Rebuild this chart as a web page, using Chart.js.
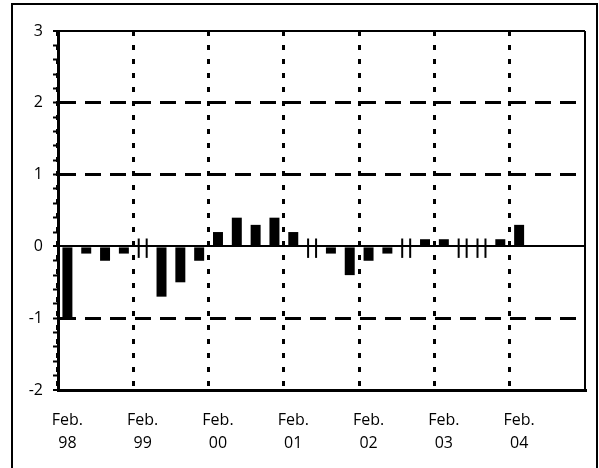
<!DOCTYPE html>
<html>
<head>
<meta charset="utf-8">
<script src="https://cdn.jsdelivr.net/npm/chart.js@4"></script>
<style>
  html, body { margin: 0; padding: 0; background: #fff; }
  #wrap { width: 599px; height: 468px; position: relative; }
</style>
</head>
<body>
<div id="wrap"><canvas id="rateChart"></canvas></div>
<script>
// quarterly data, Feb 98 .. Nov 04
const quarters = [
    'Feb. 98', 'May 98', 'Aug. 98', 'Nov. 98',
    'Feb. 99', 'May 99', 'Aug. 99', 'Nov. 99',
    'Feb. 00', 'May 00', 'Aug. 00', 'Nov. 00',
    'Feb. 01', 'May 01', 'Aug. 01', 'Nov. 01',
    'Feb. 02', 'May 02', 'Aug. 02', 'Nov. 02',
    'Feb. 03', 'May 03', 'Aug. 03', 'Nov. 03',
    'Feb. 04', 'May 04', 'Aug. 04', 'Nov. 04'
];
const changes = [
    -1.0, -0.1, -0.2, -0.1,
    0, -0.7, -0.5, -0.2,
    0.2, 0.4, 0.3, 0.4,
    0.2, 0, -0.1, -0.4,
    -0.2, -0.1, 0, 0.1,
    0.1, 0, 0, 0.1,
    0.3, null, null, null
];
const yearLabels = ['98', '99', '00', '01', '02', '03', '04'];
const yMin = -2;
const yMax = 3;

const isInt = v => Math.abs(v - Math.round(v)) < 1e-6;

// frame around the whole picture
const framePlugin = {
    id: 'frame',
    afterDraw(chart) {
        const ctx = chart.ctx;
        ctx.save();
        ctx.strokeStyle = '#000';
        ctx.lineWidth = 2;
        ctx.strokeRect(12, 4, 585, 470);
        ctx.restore();
    }
};

// zero values are shown as two small vertical strokes
const zeroMarks = {
    id: 'zeroMarks',
    afterDatasetsDraw(chart) {
        const ctx = chart.ctx;
        const y = chart.scales.y;
        const meta = chart.getDatasetMeta(0);
        ctx.save();
        ctx.strokeStyle = '#000';
        ctx.lineWidth = 2;
        changes.forEach((v, i) => {
            if (v !== 0) return;
            const bar = meta.data[i];
            const half = bar.width / 2;
            const top = y.getPixelForValue(0.11);
            const bot = y.getPixelForValue(-0.16);
            [bar.x - half + 1, bar.x + half - 1].forEach(px => {
                ctx.beginPath();
                ctx.moveTo(px, top);
                ctx.lineTo(px, bot);
                ctx.stroke();
            });
        });
        ctx.restore();
    }
};

new Chart(document.getElementById('rateChart'), {
    type: 'bar',
    data: {
        labels: quarters,
        datasets: [{
            data: changes,
            backgroundColor: '#000',
            borderWidth: 0,
            barPercentage: 0.53,
            categoryPercentage: 1.0
        }]
    },
    options: {
        responsive: true,
        maintainAspectRatio: false,
        animation: false,
        layout: { padding: { left: 12, right: 14, top: 31, bottom: 18 } },
        plugins: {
            legend: { display: false },
            tooltip: { enabled: false }
        },
        scales: {
            x: {
                offset: true,
                grid: {
                    offset: true,
                    drawTicks: false,
                    color: c => (c.index === undefined || c.index % 4 === 0) ? '#000' : 'rgba(0,0,0,0)',
                    lineWidth: c => c.index === undefined ? 2 : 3
                },
                border: {
                    display: true,
                    color: '#000',
                    width: 3,
                    dash: c => c.index === undefined ? [] : [5, 9]
                },
                ticks: {
                    autoSkip: false,
                    maxRotation: 0,
                    padding: 19,
                    color: '#000',
                    font: { family: 'Open Sans', size: 16, lineHeight: 1.45 },
                    callback: (val, i) => i % 4 === 0 ? ['Feb.', yearLabels[i / 4]] : ''
                },
                afterFit: s => { s.height = 60; }
            },
            y: {
                min: yMin,
                max: yMax,
                grid: {
                    color: c => (c.tick && isInt(c.tick.value)) ? '#000' : 'rgba(0,0,0,0)',
                    lineWidth: c => {
                        if (!c.tick) return 2;
                        const v = c.tick.value;
                        if (v === 0 || v === yMax || v === yMin) return 2;
                        return 3;
                    },
                    tickColor: '#000',
                    tickWidth: 2,
                    tickLength: 5
                },
                border: {
                    display: true,
                    color: '#000',
                    width: 3,
                    dash: c => {
                        if (!c.tick) return [];
                        const v = c.tick.value;
                        return (v === 0 || v === yMax || v === yMin) ? [] : [16, 9];
                    }
                },
                ticks: {
                    stepSize: 0.2,
                    autoSkip: false,
                    padding: 10,
                    color: '#000',
                    font: { family: 'Open Sans', size: 16 },
                    callback: v => isInt(v) ? String(Math.round(v)) : ''
                },
                afterFit: s => { s.width = 46; }
            }
        }
    },
    plugins: [framePlugin, zeroMarks]
});
</script>
</body>
</html>
